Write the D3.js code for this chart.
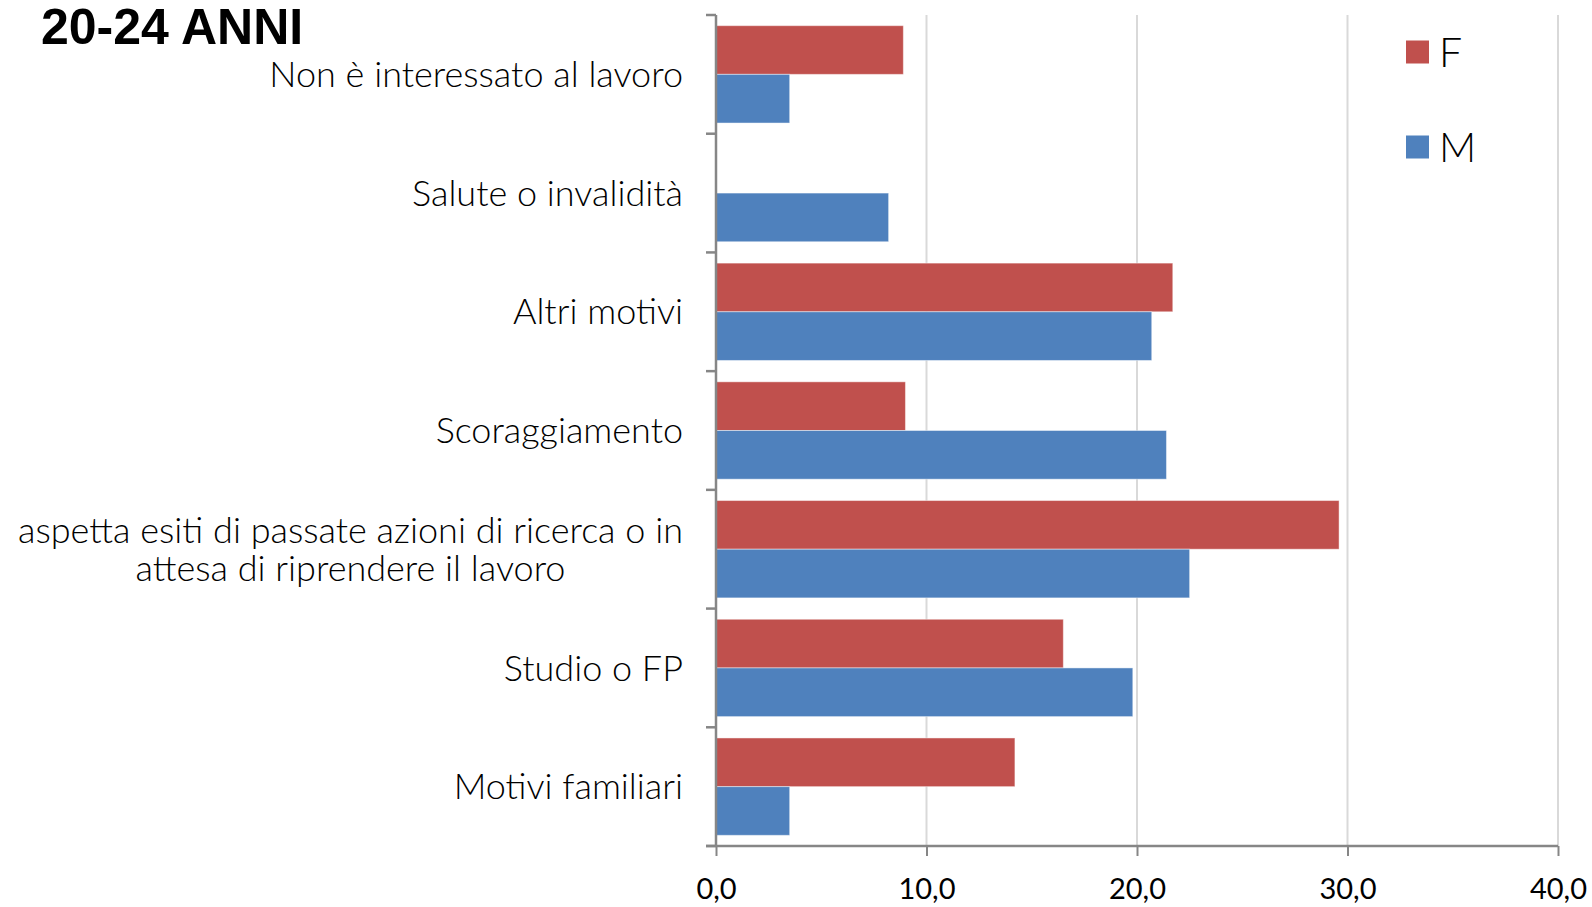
<!DOCTYPE html>
<html>
<head>
<meta charset="utf-8">
<script src="https://cdn.jsdelivr.net/npm/d3@7"></script>
<style>
  html, body { margin: 0; padding: 0; background: #fff; }
  svg { display: block; }
</style>
</head>
<body>
<svg id="chart" width="1592" height="907"></svg>
<script>
const title = "20-24 ANNI";
const categories = [
  ["Non è interessato al lavoro"],
  ["Salute o invalidità"],
  ["Altri motivi"],
  ["Scoraggiamento"],
  ["aspetta esiti di passate azioni di ricerca o in", "attesa di riprendere il lavoro"],
  ["Studio o FP"],
  ["Motivi familiari"]
];
const seriesNames = ["F", "M"];
const valuesF = [8.9, 0, 21.7, 9.0, 29.6, 16.5, 14.2];
const valuesM = [3.5, 8.2, 20.7, 21.4, 22.5, 19.8, 3.5];
const xTicks = [0, 10, 20, 30, 40];
const colors = ["#C0504D", "#4F81BD"];

(function () {
const svg = d3.select("#chart");
const pLeft = 716, pRight = 1558, pTop = 15, pBottom = 846;

const x = d3.scaleLinear().domain([0, 40]).range([pLeft, pRight]);
const idx = categories.map((d, i) => i);
const y = d3.scaleBand().domain(idx).range([pTop, pBottom]).paddingInner(0.18).paddingOuter(0.09);
const ySub = d3.scaleBand().domain([0, 1]).range([0, y.bandwidth()]);

// gridlines
svg.append("g").selectAll("line").data(xTicks.filter(t => t > 0)).join("line")
  .attr("x1", d => x(d)).attr("x2", d => x(d))
  .attr("y1", pTop).attr("y2", pBottom)
  .attr("stroke", "#D9D9D9").attr("stroke-width", 2);

// bars
const series = [valuesF, valuesM];
series.forEach((vals, s) => {
  svg.append("g").selectAll("rect").data(vals).join("rect")
    .attr("x", x(0))
    .attr("y", (d, i) => y(i) + ySub(s))
    .attr("width", d => x(d) - x(0))
    .attr("height", ySub.bandwidth())
    .attr("fill", colors[s])
    .attr("stroke", d => d > 0 ? "rgba(255,255,255,0.45)" : "none")
    .attr("stroke-width", 1);
});

// y axis
const yEdges = idx.map(i => y(i) - y.step() * y.paddingInner() / 2);
yEdges.push(pBottom);
const axisColor = "#868686";
svg.append("line").attr("x1", pLeft).attr("x2", pLeft).attr("y1", pTop).attr("y2", pBottom)
  .attr("stroke", axisColor).attr("stroke-width", 2.5);
svg.append("g").selectAll("line").data(yEdges).join("line")
  .attr("x1", pLeft - 10).attr("x2", pLeft).attr("y1", d => d).attr("y2", d => d)
  .attr("stroke", axisColor).attr("stroke-width", 2.5);

// x axis
const xAxis = d3.axisBottom(x).tickValues(xTicks).tickSize(10).tickSizeOuter(0)
  .tickFormat(d => d3.format(".1f")(d).replace(".", ","));
const gx = svg.append("g").attr("transform", `translate(0,${pBottom})`).call(xAxis);
gx.select(".domain").attr("stroke", axisColor).attr("stroke-width", 2.5)
  .attr("d", `M${pLeft - 10},0H${pRight}`);
gx.selectAll(".tick line").attr("stroke", axisColor).attr("stroke-width", 2);
gx.selectAll(".tick text").attr("fill", "#000").attr("font-family", "Lato, sans-serif")
  .attr("font-size", 29).attr("dy", null).attr("y", 53);

// category labels
const labels = svg.append("g").attr("font-family", "Lato, sans-serif").attr("font-size", 36)
  .attr("font-weight", 300).attr("fill", "#000");
categories.forEach((lines, i) => {
  const cy = y(i) + y.bandwidth() / 2;
  const lh = 37.5;
  if (lines.length === 1) {
    labels.append("text").attr("x", 683).attr("y", cy).attr("dy", "0.35em")
      .attr("text-anchor", "end").text(lines[0]);
  } else {
    const t = labels.append("text").attr("text-anchor", "middle");
    const t1 = t.append("tspan").attr("y", cy - lh / 2).attr("dy", "0.35em").text(lines[0]);
    const w = t1.node().getComputedTextLength();
    const cx = 683 - w / 2;
    t1.attr("x", cx);
    t.append("tspan").attr("x", cx).attr("y", cy + lh / 2).attr("dy", "0.35em").text(lines[1]);
  }
});

// title
svg.append("text").attr("x", 41).attr("y", 44).attr("font-family", "Liberation Sans, Arial, sans-serif")
  .attr("font-weight", "bold").attr("font-size", 50).attr("fill", "#000").text(title);

// legend
const legend = svg.append("g");
seriesNames.forEach((n, i) => {
  const ly = 52 + i * 95;
  legend.append("rect").attr("x", 1406).attr("y", ly - 11.5).attr("width", 23).attr("height", 23)
    .attr("fill", colors[i]);
  legend.append("text").attr("x", 1439).attr("y", ly).attr("dy", "0.36em")
    .attr("font-family", "Lato, sans-serif").attr("font-weight", 300).attr("font-size", 41).attr("fill", "#000").text(n);
});
})();
</script>
</body>
</html>
